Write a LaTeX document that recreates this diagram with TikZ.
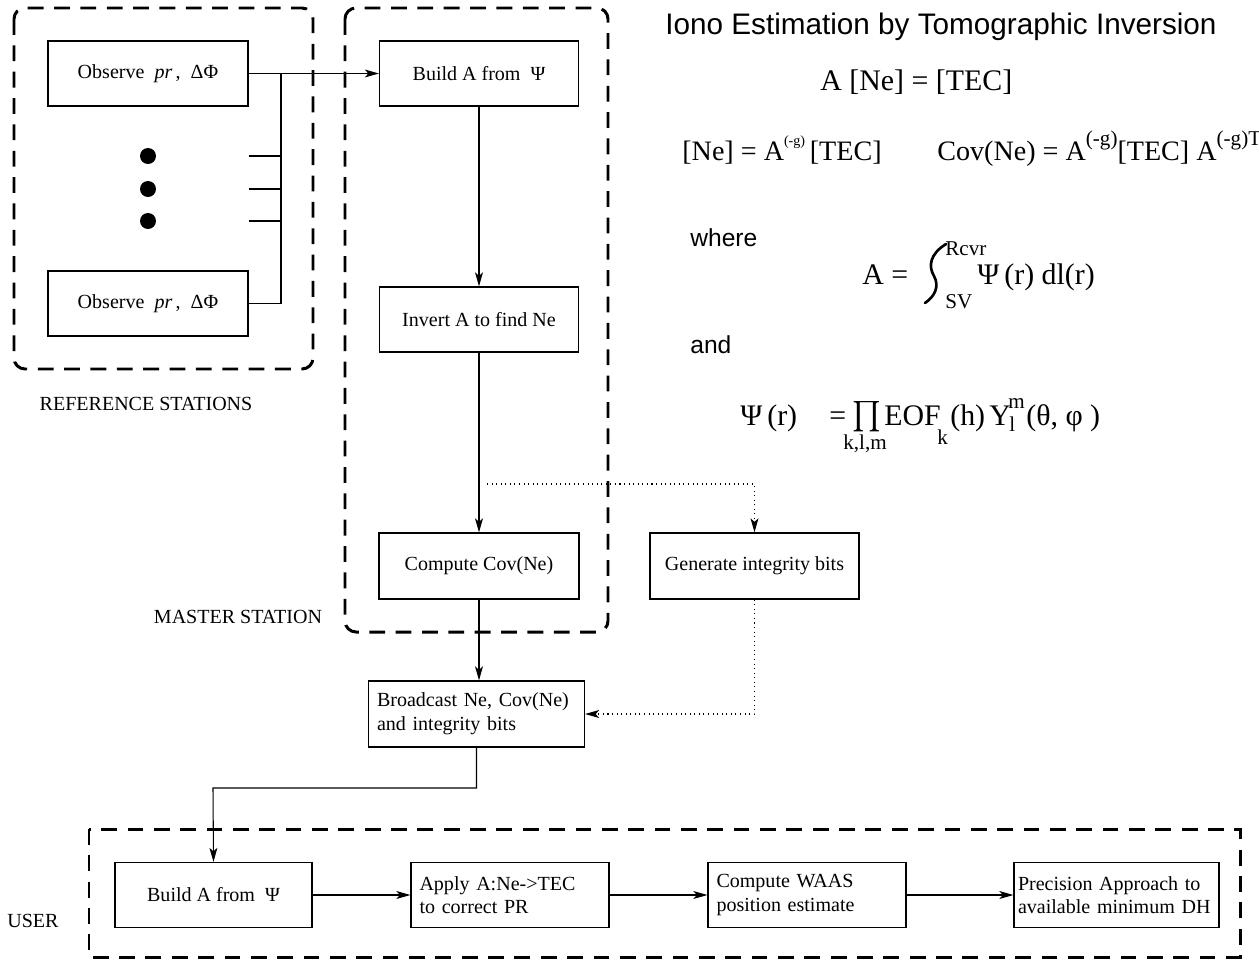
\documentclass[tikz,border=0pt]{standalone}
\usepackage{amsmath}
\usepackage{fontspec}
\setmainfont{Liberation Serif}
\setsansfont{Liberation Sans}
\usetikzlibrary{arrows.meta,positioning}

\newcommand{\lowup}[1]{\raisebox{0.5em}{\fontsize{8}{8}\selectfont #1}}
\newcommand{\highup}[1]{\raisebox{0.5em}{\fontsize{12}{12}\selectfont #1}}

\tikzset{
  stage/.style={draw, line width=0.7pt, inner sep=2pt, minimum height=1.3cm,
    font=\fontsize{11.4}{13.5}\selectfont},
  leftstage/.style={stage, align=left, inner xsep=0.17cm},
  groupbox/.style={line width=1.7pt, dash pattern=on 9pt off 6pt},
  flow/.style={-{Stealth[length=8pt,width=4.5pt,inset=2pt]}, line width=0.6pt},
  hint/.style={flow, dotted},
  wire/.style={line width=0.6pt},
  caption/.style={font=\fontsize{11.4}{13.5}\selectfont, inner sep=0pt},
  eqn/.style={font=\fontsize{17}{20}\selectfont, inner sep=0pt, anchor=base west},
  eqnsmall/.style={eqn, font=\fontsize{16}{19}\selectfont},
  idx/.style={font=\fontsize{12}{12}\selectfont, inner sep=0pt, anchor=base west},
  word/.style={font=\sffamily\fontsize{14}{16}\selectfont, inner sep=0pt, anchor=west},
}

\begin{document}
\begin{tikzpicture}[x=0.02cm, y=-0.02cm]
  \useasboundingbox (0,0) rectangle (1259,964);

  % --- reference stations ---
  \draw[groupbox, rounded corners=0.22cm] (14,8) rectangle (313,369);
  \node[stage, minimum width=4cm] (obsA) at (148,73.5) {Observe\ \ \textit{pr}\,,\ \ ΔΦ};
  \node[stage, minimum width=4cm] (obsB) at (148,303.5) {Observe\ \ \textit{pr}\,,\ \ ΔΦ};
  \coordinate (busTop) at (281,73.5);
  \foreach \y [count=\i] in {156,189,221} {
    \node[circle, fill, inner sep=0pt, minimum size=0.32cm] (dot\i) at (148,\y) {};
    \draw[wire] (obsA.east |- dot\i) -- (busTop |- dot\i);
  }
  \draw[wire] (obsB.east) -| (busTop);
  \node[caption] (refLabel) at (146,404) {REFERENCE STATIONS};

  % --- master station ---
  \draw[groupbox, rounded corners=0.22cm] (345,8) rectangle (608,632);
  \node[stage, minimum width=3.98cm] (buildM) at (479,73.5) {Build A from \ Ψ};
  \node[stage, minimum width=3.98cm] (invert) at (479,319.5) {Invert A to find Ne};
  \node[stage, minimum width=4cm, minimum height=1.32cm] (covNe) at (479,566) {Compute Cov(Ne)};
  \node[stage, minimum width=4.18cm, minimum height=1.32cm] (integ) at (754.5,566) {Generate integrity bits};
  \node[leftstage, text width=3.98cm, minimum height=1.32cm] (bcast) at (476.5,714)
    {Broadcast Ne, Cov(Ne)\\and integrity bits};
  \node[caption] (masterLabel) at (238,617) {MASTER STATION};

  \draw[flow] (obsA.east) -- (buildM.west);
  \draw[flow] (buildM.south) -- (invert.north);
  \draw[flow] (invert.south) -- (covNe.north);
  \draw[flow] (covNe.south) -- (bcast.north -| covNe.south);
  \coordinate (tap) at (487,484);
  \draw[hint] (tap) -| (integ.north);
  \draw[hint] (integ.south) |- (bcast.east);

  % --- user ---
  \draw[groupbox] (89,829) rectangle (1240,957);
  \node[stage, minimum width=3.94cm] (buildU) at (213.5,895) {Build A from \ Ψ};
  \node[leftstage, text width=3.62cm] (apply) at (510,895) {Apply A:Ne->TEC\\to correct PR};
  \node[leftstage, text width=3.62cm] (waas) at (807,895) {Compute WAAS\\position estimate};
  \node[leftstage, text width=3.94cm, inner xsep=0.08cm] (precis) at (1116.5,895)
    {Precision Approach to\\available minimum DH};
  \node[caption] (userLabel) at (33,921) {USER};

  \coordinate (drop) at (213,788);
  \draw[flow] (bcast.south) |- (drop) -- (buildU.north);
  \draw[flow] (buildU.east) -- (apply.west);
  \draw[flow] (apply.east) -- (waas.west);
  \draw[flow] (waas.east) -- (precis.west);

  % --- equations ---
  \node[font=\sffamily\fontsize{16.9}{20}\selectfont, inner sep=0pt, anchor=west] (head) at (665,27)
    {Iono Estimation by Tomographic Inversion};
  \node[eqn] (eqA) at (820,90) {A [Ne] = [TEC]};
  \node[eqnsmall] (eqNe) at (682,160) {[Ne] = A\lowup{(-g)}\,[TEC]};
  \node[eqnsmall] (eqCov) at (937,160) {Cov(Ne) = A\highup{(-g)}[TEC] A\highup{(-g)T}};

  \node[word] (where) at (690,238) {where};
  \node[eqn] (intLhs) at (862,284) {A =};
  \draw[line width=1.5pt, line cap=round]
    (946,244) .. controls (930,254) and (928,266) .. (934,276)
    .. controls (940,287) and (934,297) .. (925,303);
  \node[idx] (intTop) at (945,255) {Rcvr};
  \node[idx] (intBot) at (945,308) {SV};
  \node[eqn] (intRhs) at (977,284) {Ψ\,(r) dl(r)};

  \node[word] (and) at (690,345) {and};
  \node[eqn] (psiLhs) at (740,425) {Ψ\,(r)};
  \node[eqn] (psiEq) at (829,425) {=};
  \node[eqn, font=\fontsize{19}{22}\selectfont] (prodSign) at (852,424) {\(\textstyle\prod\)};
  \node[idx] (prodIdx) at (843,449) {k,l,m};
  \node[eqn] (eof) at (884,425) {EOF};
  \node[idx] (eofIdx) at (937,444) {k};
  \node[eqn] (eofArg) at (950,425) {(h)};
  \node[eqn] (ySym) at (989,425) {Y};
  \node[idx] (ySup) at (1008,408) {m};
  \node[idx] (ySub) at (1009,431) {l};
  \node[eqn] (yArg) at (1026,425) {(θ, φ )};
\end{tikzpicture}
\end{document}
